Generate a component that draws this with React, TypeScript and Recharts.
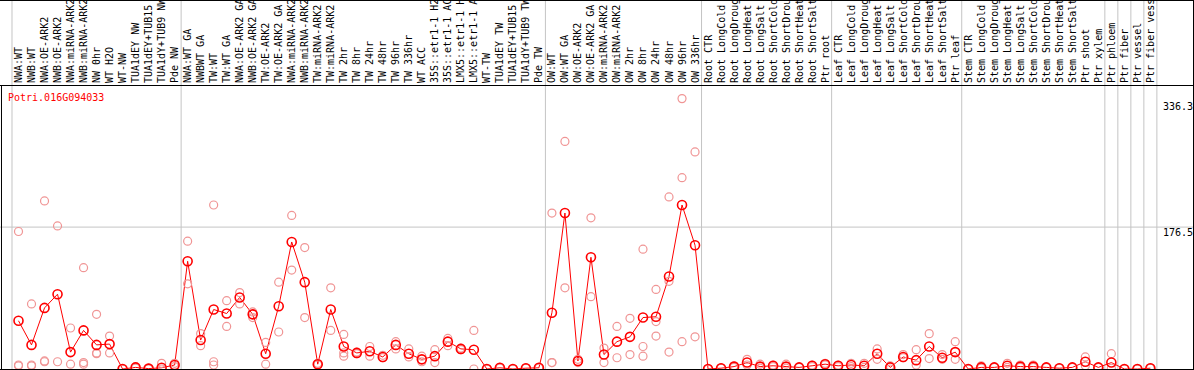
import React from "react";
import { ComposedChart, Line, Scatter, XAxis, YAxis, ReferenceLine } from "recharts";

const geneId = "Potri.016G094033";

const categories = [
  "NWA:WT", "NWB:WT", "NWA:OE-ARK2", "NWB:OE-ARK2", "NWA:miRNA-ARK2", "NWB:miRNA-ARK2",
  "NW 0hr", "WT H2O", "WT-NW", "TUA1dEY NW", "TUA1dEY+TUB15", "TUA1dY+TUB9 NW", "Pde NW",
  "NWA:WT GA", "NWBWT GA", "TW:WT", "TW:WT GA", "NWA:OE-ARK2 GA", "NWB:OE-ARK2 GA",
  "TW:OE-ARK2", "TW:OE-ARK2 GA", "NWA:miRNA-ARK2", "NWB:miRNA-ARK2", "TW:miRNA-ARK2",
  "TW:miRNA-ARK2", "TW 2hr", "TW 8hr", "TW 24hr", "TW 48hr", "TW 96hr", "TW 336hr",
  "WT ACC", "35S::etr1-1 H2", "35S::etr1-1 AC", "LMX5::etr1-1 H", "LMX5::etr1-1 A",
  "WT-TW", "TUA1dEY TW", "TUA1dEY+TUB15", "TUA1dY+TUB9 TW", "Pde TW",
  "OW:WT", "OW:WT GA", "OW:OE-ARK2", "OW:OE-ARK2 GA", "OW:miRNA-ARK2", "OW:miRNA-ARK2",
  "OW 2hr", "OW 8hr", "OW 24hr", "OW 48hr", "OW 96hr", "OW 336hr",
  "Root CTR", "Root LongCold", "Root LongDroug", "Root LongHeat", "Root LongSalt",
  "Root ShortCold", "Root ShortDrou", "Root ShortHeat", "Root ShortSalt", "Ptr root",
  "Leaf CTR", "Leaf LongCold", "Leaf LongDroug", "Leaf LongHeat", "Leaf LongSalt",
  "Leaf ShortCold", "Leaf ShortDrou", "Leaf ShortHeat", "Leaf ShortSalt", "Ptr leaf",
  "Stem CTR", "Stem LongCold", "Stem LongDroug", "Stem LongHeat", "Stem LongSalt",
  "Stem ShortCold", "Stem ShortDrou", "Stem ShortHeat", "Stem ShortSalt", "Ptr shoot",
  "Ptr xylem", "Ptr phloem", "Ptr fiber", "Ptr vessel", "Ptr fiber vess",
];

const means = [
  60, 30, 76, 93, 21, 48, 30, 31, 0, 2, 0.5, 1.5, 5,
  134, 36, 74, 69, 89, 68, 19, 78, 158, 108, 6, 74, 28, 20, 22, 15, 30, 19,
  12, 16, 34, 25, 24, 0, 1.5, 0, 1, 1.5,
  70, 194, 10, 139, 18, 34, 40, 64, 65, 115, 204, 154,
  0, 1, 3, 8, 3, 4, 3, 2, 4, 6,
  4, 5, 4, 19, 2, 15, 11, 28, 14, 21,
  0, 2, 2, 4, 3, 3, 2, 1, 2, 9,
  2, 8, 0, 0, 1,
];

const replicates = [
  [171, 5, 4], [81, 5, 4], [209, 9, 10], [178, 9], [51, 6], [126, 8, 6], [68, 20, 19],
  [41, 20], [0, 0], [3, 1], [0, 1], [7, 0], [7, 3],
  [159, 106], [44, 29], [204, 9, 5], [85, 53], [95, 81], [71, 64], [33, 6], [108, 46],
  [191, 123], [151, 64], [7, 5], [101, 48], [43, 20, 16], [21, 19], [28, 16], [17, 14],
  [34, 25], [25, 15], [16, 9], [24, 8], [38, 29], [26, 24], [48, 0], [0, 0], [2, 1],
  [0, 0], [1, 1], [2, 1],
  [194, 8, 8], [283, 101], [12, 8], [188, 90], [26, 8], [53, 14], [63, 18],
  [149, 28, 16], [99, 59, 41], [214, 109, 21], [336.3, 238, 34], [270, 40],
  [0, 0], [1, 1], [4, 2], [12, 5], [6, 1], [5, 3], [6, 1], [2, 2], [5, 3], [7, 5],
  [5, 3], [7, 3], [7, 2], [25, 12], [4, 0], [18, 14], [24, 5], [44, 13], [18, 12], [34, 12],
  [0, 0], [4, 1], [2, 2], [7, 2], [5, 2], [5, 2], [2, 2], [1, 1], [2, 2], [15, 4],
  [2, 2], [19, 1], [0, 0], [0, 0], [1, 1],
];

// column group boundaries (category index where a new block begins)
const groupEdges = [0, 13, 41, 53, 63, 73, 84, 85, 86, 87, 88];
const yTicks = [0, 176.5, 336.3];
const gridValues = [176.5];

const W = 1194;
const H = 370;
const PLOT_TOP = 86;
const PLOT_BOTTOM = 369;
const Y_MAX = 352;
const X_MIN = -0.8455;
const X_MAX = 90.776;

const rows = categories.map((name, i) => ({ pos: i + 0.5, name, mean: means[i] }));
const repRows = replicates.flatMap((vals, i) => vals.map((v) => ({ pos: i + 0.5, value: v })));

// pixel -> data helpers, only used for frame / separator lines
const yAt = (py: number) => (Y_MAX * (PLOT_BOTTOM - py)) / (PLOT_BOTTOM - PLOT_TOP);
const xAt = (px: number) => X_MIN + ((px - 1) / (W - 2)) * (X_MAX - X_MIN);

const MONO = "'DejaVu Sans Mono', monospace";

function CategoryTick({ x, payload }: any) {
  const name = categories[Math.floor(payload.value)];
  return (
    <text
      x={x}
      y={83}
      transform={`rotate(-90, ${x}, 83)`}
      textAnchor="start"
      dominantBaseline="central"
      fontFamily={MONO}
      fontSize={10}
      fill="#000"
    >
      {name}
    </text>
  );
}

function ValueTick({ y, payload }: any) {
  const v = payload.value;
  const dy = v === 0 ? -7 : v > 300 ? 8 : 5;
  return (
    <text x={1163} y={y + dy} dominantBaseline="central" fontFamily={MONO} fontSize={10} fill="#000">
      {String(v)}
    </text>
  );
}

function RepDot({ cx, cy }: any) {
  return <circle cx={cx} cy={cy} r={4} fill="none" stroke="#f09595" strokeWidth={1.2} />;
}

export default function App() {
  return (
    <div style={{ position: "relative", width: W, height: H, background: "#fff" }}>
      <style>{"body{margin:0}"}</style>
      <ComposedChart width={W} height={H} data={rows} margin={{ top: 0, right: 1, bottom: 1, left: 1 }}>
        <XAxis
          xAxisId={0}
          dataKey="pos"
          type="number"
          orientation="top"
          height={PLOT_TOP}
          domain={[X_MIN, X_MAX]}
          ticks={rows.map((r) => r.pos)}
          interval={0}
          tick={<CategoryTick />}
          axisLine={false}
          tickLine={false}
          allowDataOverflow
        />
        <YAxis
          yAxisId={0}
          orientation="right"
          mirror
          type="number"
          domain={[0, Y_MAX]}
          ticks={yTicks}
          tick={<ValueTick />}
          axisLine={false}
          tickLine={false}
          allowDataOverflow
        />
        {gridValues.map((g) => (
          <ReferenceLine
            key={"g" + g}
            segment={[{ x: xAt(0), y: g }, { x: xAt(W), y: g }]}
            stroke="#c4c4c4"
            ifOverflow="visible"
          />
        ))}
        {groupEdges.map((e) => (
          <ReferenceLine
            key={"e" + e}
            segment={[{ x: e, y: yAt(0) }, { x: e, y: yAt(369) }]}
            stroke="#c4c4c4"
            ifOverflow="visible"
          />
        ))}
        {/* frame */}
        <ReferenceLine segment={[{ x: xAt(0), y: yAt(0.5) }, { x: xAt(W), y: yAt(0.5) }]} stroke="#000" ifOverflow="visible" />
        <ReferenceLine segment={[{ x: xAt(0), y: yAt(85.5) }, { x: xAt(W), y: yAt(85.5) }]} stroke="#000" ifOverflow="visible" />
        <ReferenceLine segment={[{ x: xAt(0), y: yAt(369.5) }, { x: xAt(W), y: yAt(369.5) }]} stroke="#000" ifOverflow="visible" />
        <ReferenceLine segment={[{ x: xAt(1.5), y: yAt(86) }, { x: xAt(1.5), y: yAt(370) }]} stroke="#000" ifOverflow="visible" />
        <ReferenceLine segment={[{ x: xAt(1193.5), y: yAt(0) }, { x: xAt(1193.5), y: yAt(370) }]} stroke="#000" ifOverflow="visible" />
        <Scatter data={repRows} dataKey="value" shape={<RepDot />} isAnimationActive={false} />
        <Line
          dataKey="mean"
          stroke="#ff0000"
          strokeWidth={1}
          dot={{ r: 4.5, stroke: "#ff0000", strokeWidth: 1.6, fill: "none" }}
          activeDot={false}
          isAnimationActive={false}
        />
      </ComposedChart>
      <div
        style={{
          position: "absolute",
          left: 8,
          top: 92,
          color: "#ff0000",
          fontFamily: MONO,
          fontSize: 10,
          lineHeight: "12px",
        }}
      >
        {geneId}
      </div>
    </div>
  );
}
